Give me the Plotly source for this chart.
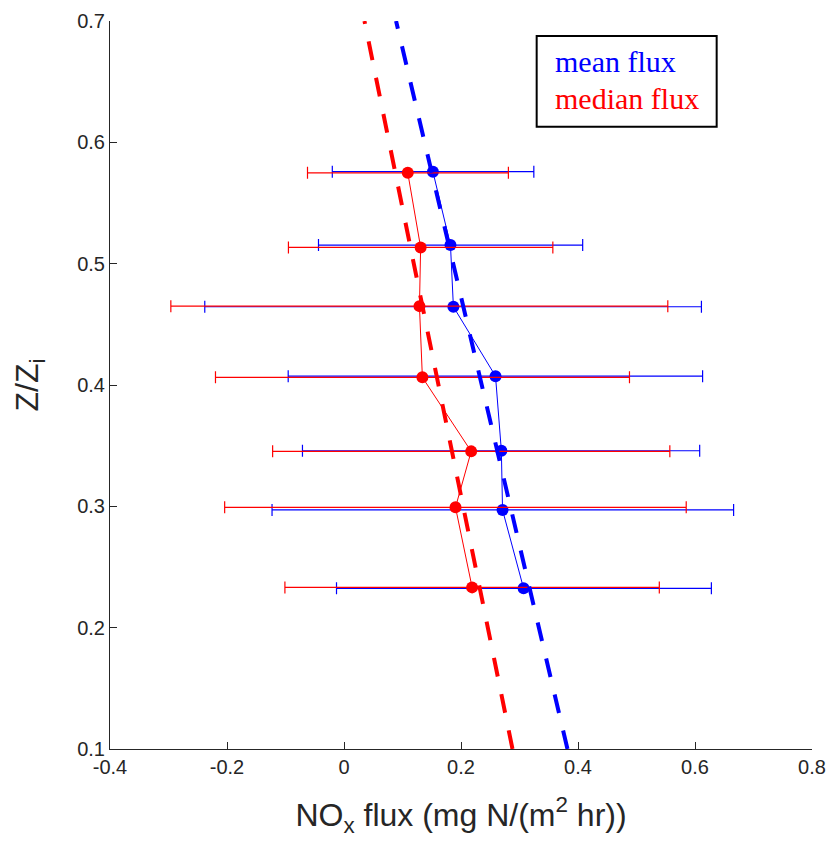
import plotly.graph_objects as go

# ---- data ----
mean_z = [0.5758, 0.5153, 0.4645, 0.4073, 0.3458, 0.2970, 0.2324]
mean_flux = [0.152, 0.182, 0.187, 0.259, 0.269, 0.271, 0.307]
mean_low = [-0.020, -0.0436, -0.238, -0.0954, -0.071, -0.123, -0.0128]
mean_high = [0.3245, 0.408, 0.611, 0.613, 0.608, 0.666, 0.628]

median_z = [0.5749, 0.5134, 0.4650, 0.4063, 0.3453, 0.2992, 0.2332]
median_flux = [0.109, 0.131, 0.129, 0.134, 0.2174, 0.1906, 0.219]
median_low = [-0.0624, -0.095, -0.296, -0.2197, -0.122, -0.204, -0.101]
median_high = [0.281, 0.357, 0.5535, 0.488, 0.557, 0.585, 0.539]

fit_z = [0.1, 0.7]
mean_fit_flux = [0.382, 0.089]
median_fit_flux = [0.288, 0.035]

x_ticks = [-0.4, -0.2, 0, 0.2, 0.4, 0.6, 0.8]
x_ticktext = ["-0.4", "-0.2", "0", "0.2", "0.4", "0.6", "0.8"]
y_ticks = [0.1, 0.2, 0.3, 0.4, 0.5, 0.6, 0.7]
y_ticktext = ["0.1", "0.2", "0.3", "0.4", "0.5", "0.6", "0.7"]

BLUE = "rgb(0,0,255)"
RED = "rgb(255,0,0)"
AX = "#262626"

fig = go.Figure()


def series(x, z, lo, hi, color):
    return go.Scatter(
        x=x, y=z, mode="lines+markers",
        line=dict(color=color, width=1),
        marker=dict(color=color, size=12),
        error_x=dict(type="data", symmetric=False,
                     array=[h - v for h, v in zip(hi, x)],
                     arrayminus=[v - l for l, v in zip(lo, x)],
                     color=color, thickness=1.2, width=6),
        showlegend=False, hoverinfo="skip",
    )


fig.add_trace(series(mean_flux, mean_z, mean_low, mean_high, BLUE))
fig.add_trace(series(median_flux, median_z, median_low, median_high, RED))

fig.add_trace(go.Scatter(x=median_fit_flux, y=fit_z, mode="lines",
                         line=dict(color=RED, width=4, dash="19px,18px"),
                         showlegend=False, hoverinfo="skip"))
fig.add_trace(go.Scatter(x=mean_fit_flux, y=fit_z, mode="lines",
                         line=dict(color=BLUE, width=4, dash="19px,18px"),
                         showlegend=False, hoverinfo="skip"))

tickfont = dict(family="Liberation Sans, Arial, sans-serif", size=20, color=AX)
titlefont = dict(family="Liberation Sans, Arial, sans-serif", size=32, color=AX)

fig.update_layout(
    width=831, height=849,
    margin=dict(l=110, r=19, t=21, b=100),
    paper_bgcolor="white", plot_bgcolor="white",
    xaxis=dict(range=[-0.4, 0.8], tickvals=x_ticks, ticktext=x_ticktext,
               showgrid=False, zeroline=False, showline=True, automargin=False,
               linecolor=AX, linewidth=1, ticks="inside", ticklen=7,
               tickcolor=AX, tickfont=tickfont,
               title=dict(text="NO<sub>x</sub> flux (mg N/(m<sup>2</sup> hr))",
                          font=titlefont, standoff=26)),
    yaxis=dict(range=[0.1, 0.7], tickvals=y_ticks, ticktext=y_ticktext,
               showgrid=False, zeroline=False, showline=True, automargin=False,
               linecolor=AX, linewidth=1, ticks="inside", ticklen=7,
               tickcolor=AX, tickfont=tickfont,
               title=dict(text="Z/Z<sub>i</sub>", font=titlefont, standoff=28)),
)

# legend-like text box
fig.add_shape(type="rect", xref="paper", yref="paper",
              x0=0.6078, x1=0.8642, y0=0.8548, y1=0.9794,
              line=dict(color="black", width=2), fillcolor="white")
legfont = "Liberation Serif, Times New Roman, serif"
fig.add_annotation(xref="paper", yref="paper", x=0.6306, y=0.9440,
                   xanchor="left", yanchor="middle", showarrow=False,
                   text="mean flux", font=dict(family=legfont, size=30, color=BLUE))
fig.add_annotation(xref="paper", yref="paper", x=0.6306, y=0.8935,
                   xanchor="left", yanchor="middle", showarrow=False,
                   text="median flux", font=dict(family=legfont, size=30, color=RED))

fig.write_html("out.html")
